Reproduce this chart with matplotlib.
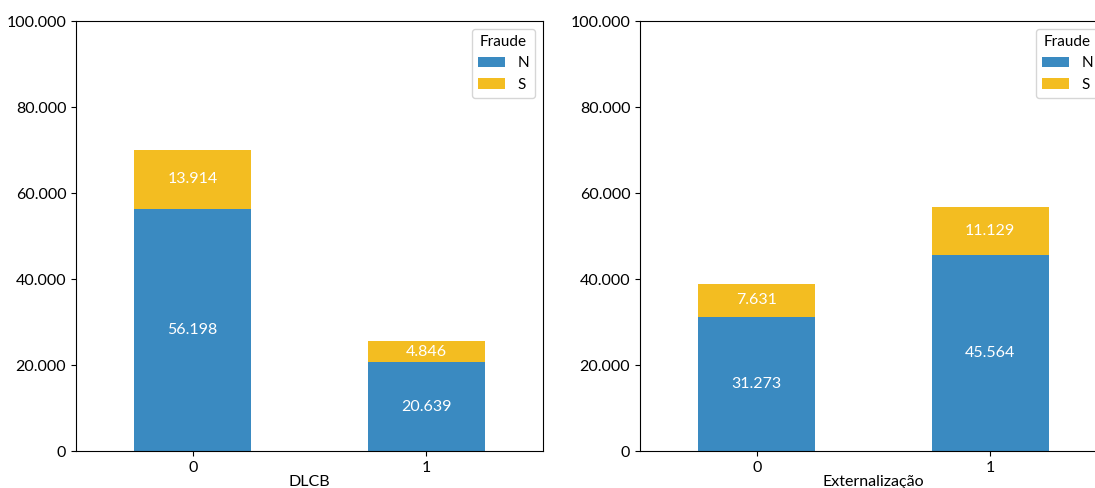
import matplotlib

matplotlib.use("Agg")
import matplotlib.pyplot as plt
from matplotlib.ticker import FuncFormatter
import numpy as np

plt.rcParams["font.family"] = ["Lato", "DejaVu Sans"]

CATEGORIES = ["0", "1"]
FEATURES = ["DLCB", "Externalização"]
SERIES = ["N", "S"]
N_DLCB = [56198, 20639]
S_DLCB = [13914, 4846]
N_EXT = [31273, 45564]
S_EXT = [7631, 11129]

COLORS = {"N": "#3A8AC1", "S": "#F3BD21"}


def thousands(v, _pos):
    return f"{int(v):,}".replace(",", ".")


def stacked(ax, feature, n_vals, s_vals):
    x = np.arange(len(CATEGORIES))
    bn = ax.bar(x, n_vals, width=0.5, color=COLORS["N"], label=SERIES[0])
    bs = ax.bar(x, s_vals, width=0.5, bottom=n_vals, color=COLORS["S"], label=SERIES[1])
    for bars, vals in ((bn, n_vals), (bs, s_vals)):
        ax.bar_label(bars, labels=[thousands(v, None) for v in vals],
                     label_type="center", color="white", fontsize=11.5)
    ax.set_xlim(-0.5, 1.5)
    ax.set_ylim(0, 100000)
    ax.set_yticks(np.arange(0, 100001, 20000))
    ax.yaxis.set_major_formatter(FuncFormatter(thousands))
    ax.set_xticks(x)
    ax.set_xticklabels(CATEGORIES)
    ax.set_xlabel(feature, fontsize=11.5, labelpad=0)
    ax.tick_params(labelsize=11.5)
    ax.legend(title="Fraude", loc="upper right", fontsize=11, title_fontsize=11,
              handlelength=1.8)


fig = plt.figure(figsize=(10.95, 4.88), dpi=100)
ax1 = fig.add_axes([0.0694, 0.0758, 0.4265, 0.881])
ax2 = fig.add_axes([0.5845, 0.0758, 0.4265, 0.881])
stacked(ax1, FEATURES[0], N_DLCB, S_DLCB)
stacked(ax2, FEATURES[1], N_EXT, S_EXT)
fig.savefig("out.png", dpi=100)
